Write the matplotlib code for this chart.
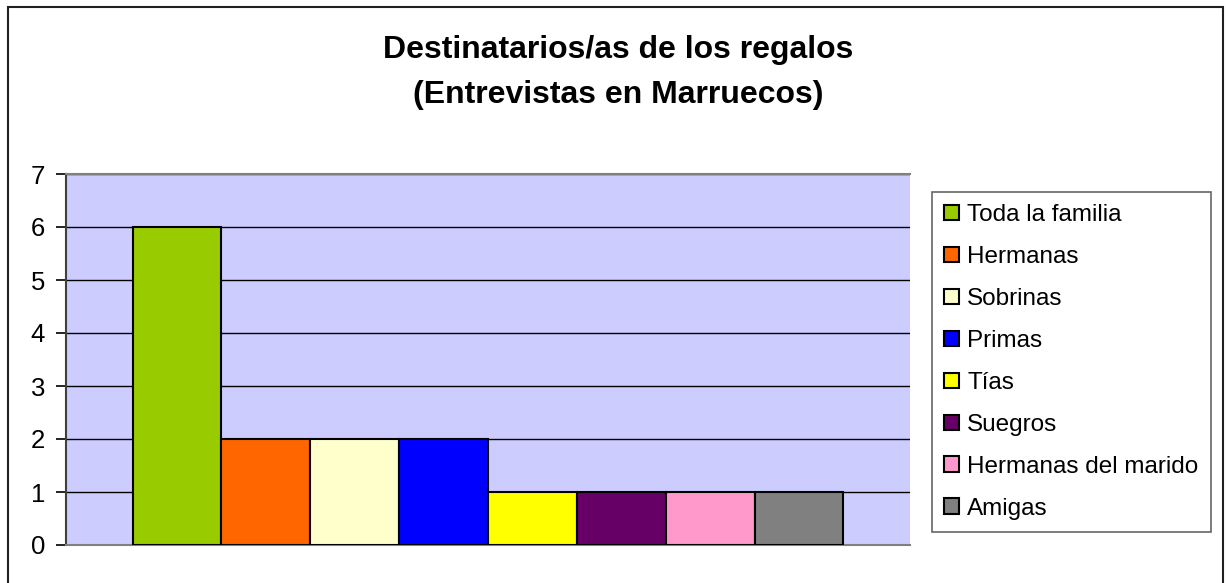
import matplotlib
matplotlib.use("Agg")
import matplotlib.pyplot as plt
from matplotlib.patches import Rectangle, Patch

plt.rcParams['font.family'] = ['Liberation Sans', 'DejaVu Sans']

categories = ["Toda la familia", "Hermanas", "Sobrinas", "Primas", "Tías",
              "Suegros", "Hermanas del marido", "Amigas"]
values = [6, 2, 2, 2, 1, 1, 1, 1]
colors = ["#99CC00", "#FF6600", "#FFFFCC", "#0000FF", "#FFFF00",
          "#660066", "#FF99CC", "#808080"]
yticks = [0, 1, 2, 3, 4, 5, 6, 7]

W, H = 1226, 583
fig = plt.figure(figsize=(W / 100, H / 100), dpi=100)
fig.patch.set_facecolor("white")

# outer border (bottom edge falls outside the image)
fig.add_artist(Rectangle((8 / W, -5 / H), (1223 - 8) / W, (583 - 7 + 5) / H,
                         transform=fig.transFigure, fill=False,
                         edgecolor="#202020", linewidth=1.5))

ax = fig.add_axes([66 / W, 1 - 545 / H, (910 - 66) / W, (545 - 174) / H])
ax.set_facecolor("#CCCCFF")

n = len(values)
w = 1 / (n + 1.5)
start = 0.75 * w
for i, (c, v, col) in enumerate(zip(categories, values, colors)):
    ax.bar(start + i * w, v, width=w, align="edge", color=col,
           edgecolor="black", linewidth=1.5, label=c, zorder=3)

ax.set_xlim(0, 1)
ax.set_ylim(0, 7)
ax.set_yticks(yticks)
ax.set_yticklabels([str(t) for t in yticks], fontsize=18.5)
ax.set_xticks([])
ax.yaxis.grid(True, color="black", linewidth=1.0, zorder=0)
ax.set_axisbelow(True)
ax.tick_params(axis="y", direction="out", length=7, width=1.2, pad=8, colors="black")
for s in ["top", "right", "bottom"]:
    ax.spines[s].set_color("#808080")
    ax.spines[s].set_linewidth(1.5)
ax.spines["right"].set_visible(False)
ax.spines["left"].set_color("#404040")
ax.spines["left"].set_linewidth(1.5)

fig.text(618 / W, 1 - 50 / H, "Destinatarios/as de los regalos",
         ha="center", va="center", fontsize=23, fontweight="bold")
fig.text(618 / W, 1 - 95 / H, "(Entrevistas en Marruecos)",
         ha="center", va="center", fontsize=23, fontweight="bold")

handles = [Patch(facecolor=col, edgecolor="black", linewidth=1.5)
           for col in colors]
leg = fig.legend(handles, categories, loc="upper left",
                 bbox_to_anchor=(932 / W, 1 - 192 / H),
                 fontsize=17.5, frameon=True, fancybox=False,
                 edgecolor="#404040", handlelength=0.6, handleheight=0.6,
                 handletextpad=0.35, labelspacing=0.82, borderpad=0.5,
                 borderaxespad=0)
leg.get_frame().set_linewidth(1.2)

fig.savefig("out.png", dpi=100)
